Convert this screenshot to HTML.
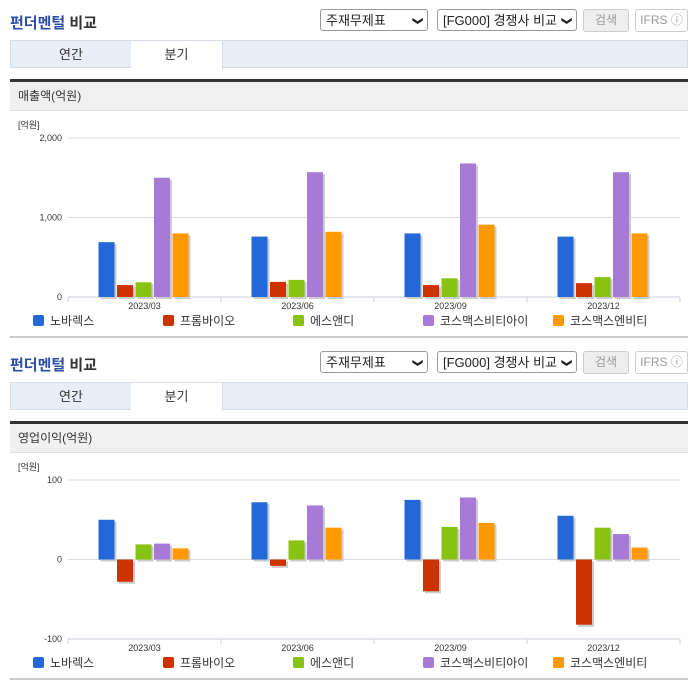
<!DOCTYPE html>
<html><head><meta charset="utf-8">
<style>
body{margin:0;width:696px;height:684px;background:#fff;font-family:"Liberation Sans","Noto Sans CJK KR",sans-serif;position:relative;overflow:hidden}
.sec{position:absolute;left:0;width:696px;height:342px}
.title{position:absolute;left:10px;top:12px;font-size:15px;font-weight:bold;color:#333}
.title span{color:#2b4ea6}
.sel{position:absolute;top:9px;height:22px;border:1px solid #999;border-radius:3px;background:#fff;font-size:13px;line-height:22px;padding-left:5px;box-sizing:border-box;color:#222}
.sel i{position:absolute;right:6px;top:0;font-style:normal;font-size:10px;transform:rotate(90deg);font-weight:bold}
.btn{position:absolute;top:9px;height:23px;border:1px solid #ccc;border-radius:3px;box-sizing:border-box;font-size:12px;line-height:21px;text-align:center;color:#999}
.tabs{position:absolute;left:10px;top:40px;width:678px;height:28px;background:#e8eef7;border:1px solid #d5dce6;box-sizing:border-box}
.tab{position:absolute;top:0;height:27px;line-height:27px;font-size:13px;text-align:center;color:#333}
.dark{position:absolute;left:10px;top:79px;width:678px;height:3px;background:#333}
.hdr{position:absolute;left:10px;top:82px;width:678px;height:29px;background:#f0f0f0;border-bottom:1px solid #ddd;font-size:12px;line-height:29px;padding-left:8px;box-sizing:border-box;color:#333}
.bottom{position:absolute;left:10px;top:336px;width:678px;height:2px;background:#ccc}
svg{position:absolute;left:0;top:110px}
</style></head><body>
<div class="sec" id="s1" style="top:0">
 <div class="title"><span>펀더멘털</span> 비교</div>
 <div class="sel" style="left:320px;width:108px">주재무제표<i>❯</i></div>
 <div class="sel" style="left:437px;width:140px">[FG000] 경쟁사 비교<i>❯</i></div>
 <div class="btn" style="left:583px;width:46px;background:#eee">검색</div>
 <div class="btn" style="left:635px;width:53px">IFRS ⓘ</div>
 <div class="tabs">
  <div class="tab" style="left:0;width:120px">연간</div>
  <div class="tab" style="left:120px;width:91px;background:#fff;height:28px;border-right:1px solid #d5dce6">분기</div>
 </div>
 <div class="dark"></div>
 <div class="hdr">매출액(억원)</div>
 <svg id="c1" width="696" height="230"></svg>
 <div class="bottom"></div>
</div>
<div class="sec" id="s2" style="top:342px">
 <div class="title"><span>펀더멘털</span> 비교</div>
 <div class="sel" style="left:320px;width:108px">주재무제표<i>❯</i></div>
 <div class="sel" style="left:437px;width:140px">[FG000] 경쟁사 비교<i>❯</i></div>
 <div class="btn" style="left:583px;width:46px;background:#eee">검색</div>
 <div class="btn" style="left:635px;width:53px">IFRS ⓘ</div>
 <div class="tabs">
  <div class="tab" style="left:0;width:120px">연간</div>
  <div class="tab" style="left:120px;width:91px;background:#fff;height:28px;border-right:1px solid #d5dce6">분기</div>
 </div>
 <div class="dark"></div>
 <div class="hdr">영업이익(억원)</div>
 <svg id="c2" width="696" height="230"></svg>
 <div class="bottom"></div>
</div>
<script>
const categories=["2023/03","2023/06","2023/09","2023/12"];
const seriesNames=["노바렉스","프롬바이오","에스앤디","코스맥스비티아이","코스맥스엔비티"];
const colors=["#2468d8","#cc3300","#88c212","#a77ad8","#ff9900"];
const revNovarex=[690,760,800,760];
const revProm=[150,190,150,175];
const revSnd=[185,215,235,250];
const revBti=[1500,1570,1680,1570];
const revNbt=[800,820,910,800];
const opNovarex=[50,72,75,55];
const opProm=[-28,-8,-40,-82];
const opSnd=[19,24,41,40];
const opBti=[20,68,78,32];
const opNbt=[14,40,46,15];
const revTicks=[0,1000,2000];
const revTickLabels=["0","1,000","2,000"];
const opTicks=[-100,0,100];
const opTickLabels=["-100","0","100"];
const NS="http://www.w3.org/2000/svg";
function mk(p,t,a){const e=document.createElementNS(NS,t);for(const k in a)e.setAttribute(k,a[k]);p.appendChild(e);return e;}
function draw(id,series,ticks,tickLabels,ymin,ymax,ytop,ybot){
 const svg=document.getElementById(id);
 const x0=68,x1=680,gw=(x1-x0)/categories.length;
 const y=v=>ybot-(v-ymin)/(ymax-ymin)*(ybot-ytop);
 const u=mk(svg,'text',{x:18,y:ytop-10,'font-size':9,fill:'#333'});u.textContent='[억원]';
 
 
 ticks.forEach((t,i)=>{
  const g=mk(svg,'line',{x1:x0,x2:x1,y1:y(t),y2:y(t),stroke:'#ddd','stroke-width':1});
  
  
  const l=mk(svg,'text',{x:62,y:y(t)+3,'font-size':9,fill:'#333','text-anchor':'end'});l.textContent=tickLabels[i];
  
  
 });
 const ax=mk(svg,'line',{x1:x0,x2:x1,y1:ybot,y2:ybot,stroke:'#ccd','stroke-width':1});
 
 
 for(let c=0;c<=categories.length;c++){
  const tk=mk(svg,'line',{x1:x0+c*gw,x2:x0+c*gw,y1:ybot,y2:ybot+5,stroke:'#ccd'});
  
  
 }
 categories.forEach((cat,c)=>{
  const l=mk(svg,'text',{x:x0+c*gw+gw/2,y:ybot+12,'font-size':9,fill:'#333','text-anchor':'middle'});l.textContent=cat;
  
  
  series.forEach((s,k)=>{
   const bx=x0+c*gw+30.5+k*18.5,v=s[c];
   const top=Math.min(y(v),y(0)),h=Math.abs(y(v)-y(0));
   const sh=mk(svg,'rect',{x:bx+2,y:top+2,width:16,height:h,fill:'#ccc'});
   
   
   const r=mk(svg,'rect',{x:bx,y:top,width:16,height:h,fill:colors[k]});
   
   
  });
 });
 const lx=[33,163,293,423,553];
 seriesNames.forEach((n,k)=>{
  const r=mk(svg,'rect',{x:lx[k],y:ybot+18,width:11,height:11,rx:2,fill:colors[k]});
  
  
  const t=mk(svg,'text',{x:lx[k]+17,y:ybot+28,'font-size':12,fill:'#333'});t.textContent=n;
  
  
 });
}
draw('c1',[revNovarex,revProm,revSnd,revBti,revNbt],revTicks,revTickLabels,0,2000,28,187);
draw('c2',[opNovarex,opProm,opSnd,opBti,opNbt],opTicks,opTickLabels,-100,100,28,187);
</script>
</body></html>
